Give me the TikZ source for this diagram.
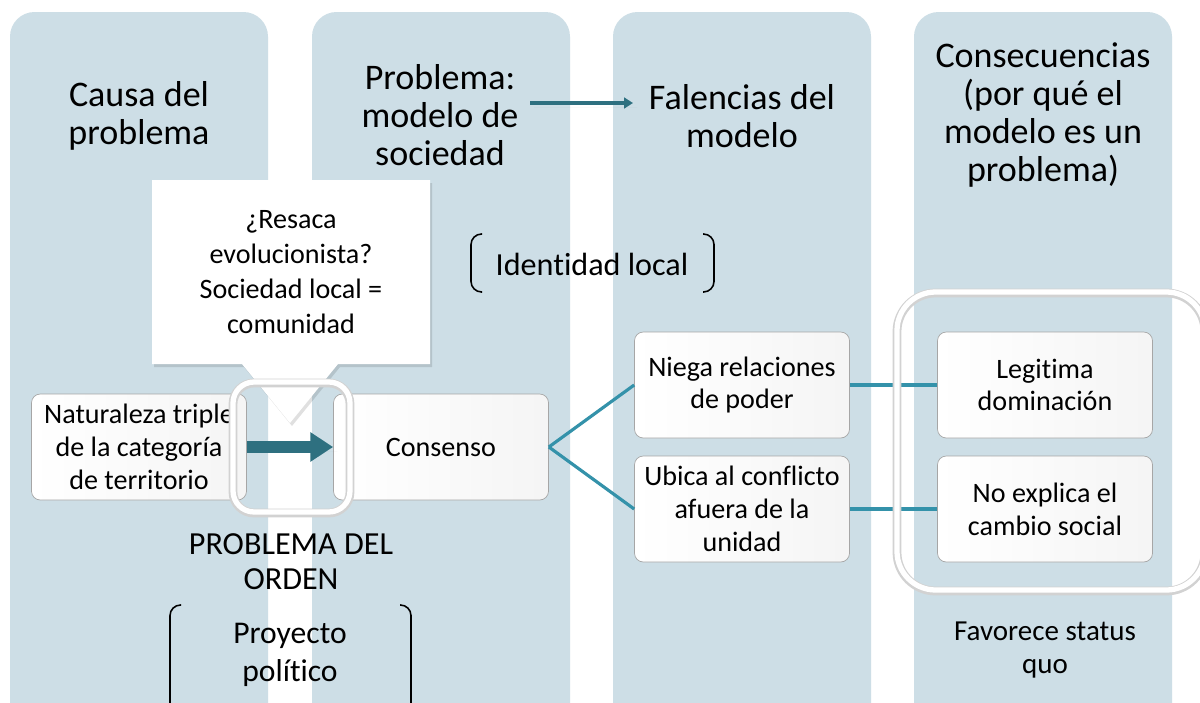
\documentclass[tikz,border=0pt]{standalone}
\usepackage{fontspec}
\setmainfont{Carlito}[Ligatures=NoCommon]
\usetikzlibrary{arrows.meta,shadows}
\definecolor{colfill}{RGB}{205,222,230}
\definecolor{teal1}{RGB}{52,146,170}
\definecolor{teal2}{RGB}{46,112,128}
\tikzset{
  column/.style={fill=colfill, rounded corners=14pt},
  head/.style={align=center, font=\fontsize{20.5}{21.7}\selectfont},
  box/.style={draw=gray!70, rounded corners=5pt, left color=white, right color=gray!8, minimum width=215*0.02cm, minimum height=106*0.02cm, align=center, font=\fontsize{16}{18.7}\selectfont},
  plain/.style={align=center, font=\fontsize{16}{18.7}\selectfont},
  link/.style={teal1, line width=1.8pt},
  glowshade/.style={draw=gray!35, line width=5pt, rounded corners=12pt},
  glow/.style={draw=white, line width=3pt, rounded corners=12pt},
  bracket/.style={line width=0.9pt, rounded corners=6pt}
}
\newcommand{\calloutpath}{(152,180) -- (430,180) -- (430,364) -- (338,364) -- (290,423) -- (242,364) -- (152,364) -- cycle}
\begin{document}
\begin{tikzpicture}[x=0.02cm, y=-0.02cm]
\useasboundingbox (0,0) rectangle (1200,703);
\clip (0,0) rectangle (1200,703);
\fill[white] (0,0) rectangle (1200,703);
\foreach \x in {10,312,613,914}
{
    \fill[column] (\x,12) rectangle (\x+258,760);
}
% headers
\node[head] (h1) at (139,116) {Causa del\\problema};
\node[head] (h2) at (440,115) {Problema:\\modelo de\\sociedad};
\node[head] (h3) at (742,116) {Falencias del\\modelo};
\node[head] (h4) at (1043,115) {Consecuencias\\(por qué el\\modelo es un\\problema)};
\coordinate (a1) at (530,103);
\coordinate (a2) at (633,103);
\draw[teal2, line width=2pt, -{Triangle[length=5pt, width=6pt]}, drop shadow={opacity=0.3}] (a1) -- (a2);

% callout
\fill[black, opacity=0.12, shift={(2,3)}] \calloutpath;
\fill[white] \calloutpath;
\node[align=center, font=\fontsize{16}{19.8}\selectfont] (resaca) at (291,272) {¿Resaca\\evolucionista?\\Sociedad local =\\comunidad};

% identidad local
\node[font=\fontsize{18.3}{19}\selectfont] (idl) at (592,264) {Identidad local};
\draw[bracket] (482,234) -- (471,234) -- (471,292) -- (482,292);
\draw[bracket] (703,234) -- (714,234) -- (714,292) -- (703,292);

% boxes
\node[box] (nat) at (139,447) {Naturaleza triple\\de la categoría\\de territorio};
\node[box] (cons) at (441,447) {Consenso};
\node[box] (niega) at (742,385) {Niega relaciones\\de poder};
\node[box] (ubica) at (742,509) {Ubica al conflicto\\afuera de la\\unidad};
\node[box] (legit) at (1045,385) {Legitima\\dominación};
\node[box] (noexp) at (1045,509) {No explica el\\cambio social};

\draw[link] (cons.east) -- (niega.west);
\draw[link] (cons.east) -- (ubica.west);
\draw[link] (niega.east) -- (legit.west);
\draw[link] (ubica.east) -- (noexp.west);

% highlights
\draw[glowshade] (233,383) rectangle (350,513);
\draw[glow] (233,382) rectangle (350,512);
\draw[glowshade, rounded corners=22pt] (897,293) rectangle (1205,591);
\draw[glow, rounded corners=22pt] (897,292) rectangle (1205,590);
\draw[teal2, line width=6.5pt, -{Triangle[length=13pt, width=16pt]}, drop shadow={opacity=0.3}] (nat.east) -- (cons.west);

% bottom texts
\node[plain, font=\fontsize{18.3}{19.8}\selectfont] (orden) at (291,562) {PROBLEMA DEL\\ORDEN};
\node[plain, font=\fontsize{18}{21.5}\selectfont] (proy) at (290,655) {Proyecto\\político};
\draw[bracket] (181,605) -- (170,605) -- (170,720);
\draw[bracket] (400,605) -- (411,605) -- (411,720);
\node[plain, font=\fontsize{16.5}{18.7}\selectfont] (favor) at (1045,650) {Favorece status\\quo};
\end{tikzpicture}
\end{document}
